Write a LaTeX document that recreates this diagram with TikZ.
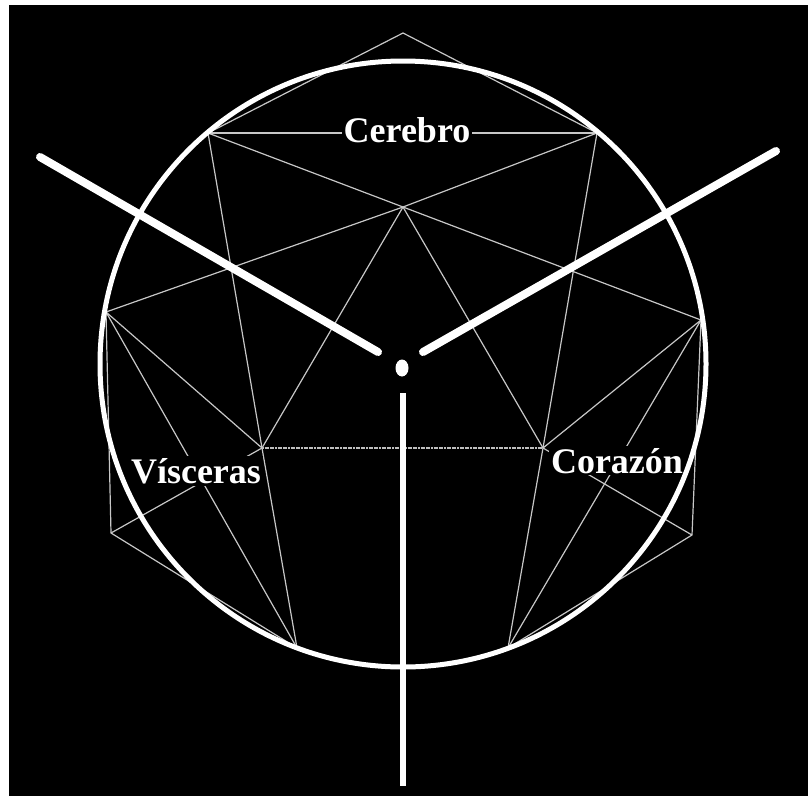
\documentclass[tikz,border=0pt]{standalone}
\usepackage{fontspec}
\setmainfont{Liberation Serif}
\usetikzlibrary{positioning}

\begin{document}
\begin{tikzpicture}[
    x=1pt, y=-1pt,
    thinline/.style={draw=white!78!black, line width=1.2pt},
    midline/.style={draw=white!75!black, line width=2.6pt, dash pattern=on 2pt off 0.6pt},
    bar/.style={draw=white, line width=8pt, line cap=round},
    stem/.style={draw=white, line width=5.5pt},
    tag/.style={fill=black, text=white, inner sep=2pt, anchor=base, font=\fontsize{36}{40}\selectfont\bfseries}
]
% Background
\fill[white] (0,0) rectangle (808,796);
\fill[black] (9,5) rectangle (808,796);

% Points of the figure
\coordinate (top) at (403,33);
\coordinate (a1) at (208,133);
\coordinate (a2) at (597,133);
\coordinate (c) at (403,207);
\coordinate (l) at (106,312);
\coordinate (r) at (701,320);
\coordinate (v) at (262,448);
\coordinate (h) at (543,448);
\coordinate (ll) at (111,533);
\coordinate (rr) at (692,535);
\coordinate (b1) at (297,648);
\coordinate (b2) at (508,648);

% Thin lines
\draw[thinline] (a1) -- (top) -- (a2);
\draw[thinline] (a1) -- (a2);
\draw[thinline] (a1) -- (c) -- (r);
\draw[thinline] (a2) -- (c) -- (l);
\draw[thinline] (v) -- (c) -- (h);
\draw[thinline] (a1) -- (v) -- (b1);
\draw[thinline] (a2) -- (h) -- (b2);
\draw[midline] (v) -- (h);

% Left side
\draw[thinline] (l) -- (v);
\draw[thinline] (l) -- (b1);
\draw[thinline] (l) -- (ll) -- (b1);
\draw[thinline] (v) -- (ll);

% Right side
\draw[thinline] (r) -- (h);
\draw[thinline] (r) -- (b2);
\draw[thinline] (r) -- (rr) -- (b2);
\draw[thinline] (h) -- (rr);

% Labels
\node[tag] (cerebro) at (407,142) {Cerebro};
\node[tag] (visceras) at (196,483) {Vísceras};
\node[tag] (corazon) at (617,473) {Corazón};

% Circle
\coordinate (centre) at (403,364);
\draw[white, line width=5pt] (centre) circle[radius=303pt];

% Arms, dot and stem
\coordinate (leftend) at (40,157);
\coordinate (leftin) at (378,352);
\coordinate (rightend) at (776,151);
\coordinate (rightin) at (423,352);
\coordinate (dot) at (402,368);
\coordinate (stemtop) at (403,393);
\coordinate (stembot) at (403,786);
\draw[bar] (leftend) -- (leftin);
\draw[bar] (rightend) -- (rightin);
\fill[white] (dot) ellipse[x radius=6.5pt, y radius=8.5pt];
\draw[stem] (stemtop) -- (stembot);

\end{tikzpicture}
\end{document}
